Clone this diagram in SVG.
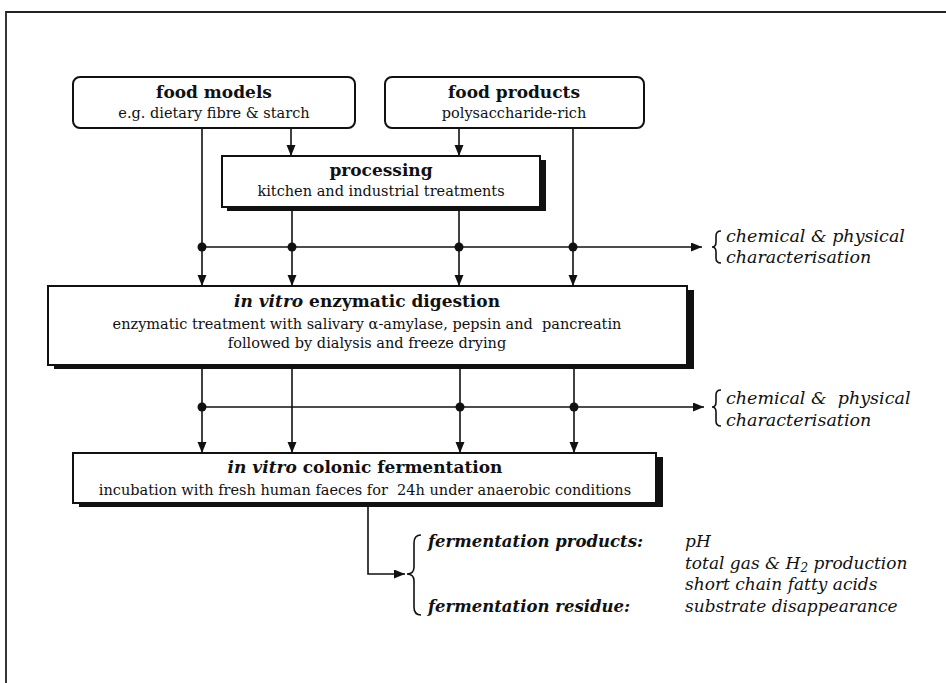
<svg xmlns="http://www.w3.org/2000/svg" width="946" height="683" viewBox="0 0 946 683">
<style>
.bg{fill:#fff}
.frame{fill:none;stroke:#222;stroke-width:1.8}
.box{fill:#fff;stroke:#111;stroke-width:2}
.shadow{fill:#111}
.t{font-family:"DejaVu Serif",serif;font-weight:bold;font-size:17px;text-anchor:middle;fill:#111}
.s{font-family:"DejaVu Serif",serif;font-size:14.5px;text-anchor:middle;fill:#111}
.c{font-family:"DejaVu Serif",serif;font-style:italic;font-size:17.5px;fill:#111}
.c2{font-family:"DejaVu Serif",serif;font-style:italic;font-size:17px;fill:#111}
.cb{font-family:"DejaVu Serif",serif;font-style:italic;font-weight:bold;font-size:16.5px;fill:#111}
.ln{stroke:#111;stroke-width:1.6;fill:none}
.br{stroke:#111;stroke-width:1.6;fill:none}
.dot{fill:#111}
</style>
<defs>
<marker id="ah" markerUnits="userSpaceOnUse" markerWidth="12" markerHeight="10" refX="11" refY="4.5" orient="auto">
<path d="M0,0 L11,4.5 L0,9 z" fill="#111"/>
</marker>
</defs>
<rect class="bg" x="0" y="0" width="946" height="683"/>
<path class="frame" d="M6,683 V12 H946"/>

<g id="food-models">
<rect class="box" x="73" y="77" width="282" height="51" rx="7"/>
<text class="t" x="214" y="98">food models</text>
<text class="s" x="214" y="118">e.g. dietary fibre &amp; starch</text>
</g>

<g id="food-products">
<rect class="box" x="385" y="77" width="259" height="51" rx="7"/>
<text class="t" x="514" y="98">food products</text>
<text class="s" x="514" y="118">polysaccharide-rich</text>
</g>

<g id="processing">
<rect class="shadow" x="227" y="160" width="319" height="51"/>
<rect class="box" x="222" y="156" width="318" height="51"/>
<text class="t" x="381" y="176">processing</text>
<text class="s" x="381" y="196">kitchen and industrial treatments</text>
</g>

<g id="digestion">
<rect class="shadow" x="54" y="290" width="640" height="79"/>
<rect class="box" x="48" y="286" width="639" height="79"/>
<text class="t" x="367" y="307"><tspan font-style="italic">in vitro</tspan> enzymatic digestion</text>
<text class="s" x="367" y="329" style="white-space:pre">enzymatic treatment with salivary α-amylase, pepsin and  pancreatin</text>
<text class="s" x="367" y="348">followed by dialysis and freeze drying</text>
</g>

<g id="fermentation">
<rect class="shadow" x="79" y="457" width="584" height="50"/>
<rect class="box" x="73" y="453" width="583" height="50"/>
<text class="t" x="365" y="473"><tspan font-style="italic">in vitro</tspan> colonic fermentation</text>
<text class="s" x="365" y="495" style="white-space:pre">incubation with fresh human faeces for  24h under anaerobic conditions</text>
</g>

<g id="characterisation-1">
<path class="br" d="M721,231 Q716,231 716,236 V242 Q716,247 712,247 Q716,247 716,252 V258 Q716,263 721,263"/>
<text class="c" x="726" y="242">chemical &amp; physical</text>
<text class="c" x="726" y="263">characterisation</text>
</g>

<g id="characterisation-2">
<path class="br" d="M721,390 Q716,390 716,395 V402 Q716,407 712,407 Q716,407 716,412 V421 Q716,426 721,426"/>
<text class="c" x="726" y="404" style="white-space:pre">chemical &amp;  physical</text>
<text class="c" x="726" y="426">characterisation</text>
</g>

<g id="fermentation-results">
<path class="br" stroke-width="2.4" d="M421,535 Q414,535 414,543 V567 Q414,574 407,574 Q414,574 414,581 V607 Q414,615 421,615"/>
<text class="cb" x="428" y="547">fermentation products:</text>
<text class="c2" x="685" y="547">pH</text>
<text class="c2" x="685" y="568.5">total gas &amp; H<tspan font-size="12" dy="3">2</tspan><tspan dy="-3"> production</tspan></text>
<text class="c2" x="685" y="590">short chain fatty acids</text>
<text class="cb" x="428" y="611.5">fermentation residue:</text>
<text class="c2" x="685" y="611.5">substrate disappearance</text>
</g>

<g id="connectors">
<path class="ln" d="M291,128 V156" marker-end="url(#ah)"/>
<path class="ln" d="M459,128 V156" marker-end="url(#ah)"/>
<path class="ln" d="M202,128 V286" marker-end="url(#ah)"/>
<path class="ln" d="M573,128 V286" marker-end="url(#ah)"/>
<path class="ln" d="M292,207 V286" marker-end="url(#ah)"/>
<path class="ln" d="M459,207 V286" marker-end="url(#ah)"/>
<path class="ln" d="M202,247 H702" marker-end="url(#ah)"/>
<circle class="dot" cx="202" cy="247" r="4.5"/>
<circle class="dot" cx="292" cy="247" r="4.5"/>
<circle class="dot" cx="459" cy="247" r="4.5"/>
<circle class="dot" cx="573" cy="247" r="4.5"/>
<path class="ln" d="M202,365 V453" marker-end="url(#ah)"/>
<path class="ln" d="M292,365 V453" marker-end="url(#ah)"/>
<path class="ln" d="M460,365 V453" marker-end="url(#ah)"/>
<path class="ln" d="M574,365 V453" marker-end="url(#ah)"/>
<path class="ln" d="M202,407 H704" marker-end="url(#ah)"/>
<circle class="dot" cx="202" cy="407" r="4.5"/>
<circle class="dot" cx="460" cy="407" r="4.5"/>
<circle class="dot" cx="574" cy="407" r="4.5"/>
<path class="ln" d="M368,503 V574 H405" marker-end="url(#ah)"/>
</g>
</svg>
